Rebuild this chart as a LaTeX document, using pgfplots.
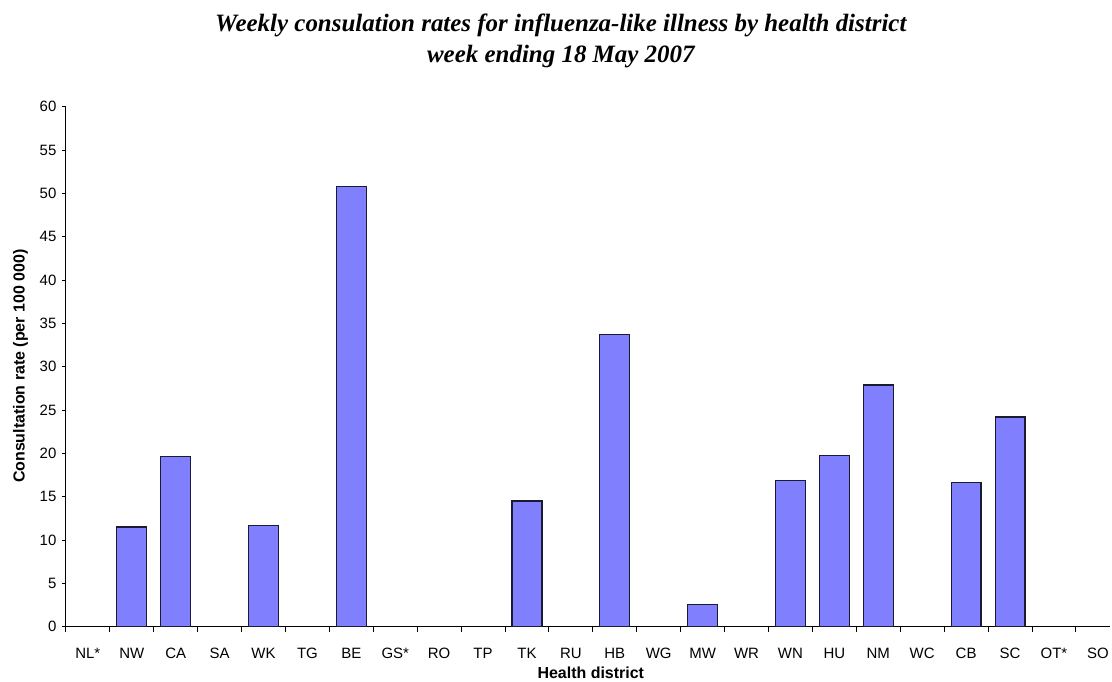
\documentclass[border=0pt]{standalone}
\usepackage{fontspec}
\setmainfont{Liberation Sans}
\newfontfamily\titlefont{Liberation Serif}
\usepackage{pgfplots}
\pgfplotsset{compat=1.18}
\definecolor{barfill}{HTML}{8080FF}
\definecolor{baredge}{HTML}{1A1A33}
\begin{document}
\begin{tikzpicture}
\path (0pt,0pt) rectangle (1112pt,682pt);
\begin{axis}[
  at={(66pt,54pt)}, anchor=south west,
  scale only axis, width=1046pt, height=521pt,
  xmin=-0.5, xmax=23.27, ymin=0, ymax=60,
  axis x line*=bottom, axis y line*=left,
  ytick={0,5,...,60},
  xtick={0,...,23},
  xticklabels={NL*,NW,CA,SA,WK,TG,BE,GS*,RO,TP,TK,RU,HB,WG,MW,WR,WN,HU,NM,WC,CB,SC,OT*,SO},
  minor xtick={-0.5,0.5,...,22.5},
  major x tick style={draw=none},
  tick align=outside, major tick length=4pt, minor tick length=5pt,
  tick style={black, line width=1pt},
  axis line style={black, line width=1pt},
  /pgf/number format/assume math mode=true,
  ticklabel style={font=\fontsize{15}{17}\selectfont},
  xticklabel style={anchor=base, yshift=-28pt},
  yticklabel style={xshift=-2pt},
  ybar, bar width=0.68, bar shift=0pt,
  unbounded coords=discard,
]
\addplot[fill=barfill, draw=baredge, line width=1.2pt,
  y filter/.expression={y==0 ? nan : y}] coordinates {
 (0,0) (1,11.5) (2,19.6) (3,0) (4,11.7) (5,0) (6,50.8) (7,0) (8,0) (9,0)
 (10,14.5) (11,0) (12,33.7) (13,0) (14,2.6) (15,0) (16,16.9) (17,19.8)
 (18,27.9) (19,0) (20,16.6) (21,24.2) (22,0) (23,0)};
\end{axis}
\node[font=\titlefont\bfseries\itshape\fontsize{25}{31}\selectfont, anchor=base] at (562pt,650pt) {Weekly consulation rates for influenza-like illness by health district};
\node[font=\titlefont\bfseries\itshape\fontsize{25}{31}\selectfont, anchor=base] at (562pt,619pt) {week ending 18 May 2007};
\node[font=\bfseries\fontsize{16}{18}\selectfont, rotate=90, anchor=center] at (20.5pt,315pt) {Consultation rate (per 100 000)};
\node[font=\bfseries\fontsize{16}{18}\selectfont, anchor=base] at (592pt,2.5pt) {Health district};
\end{tikzpicture}
\end{document}
